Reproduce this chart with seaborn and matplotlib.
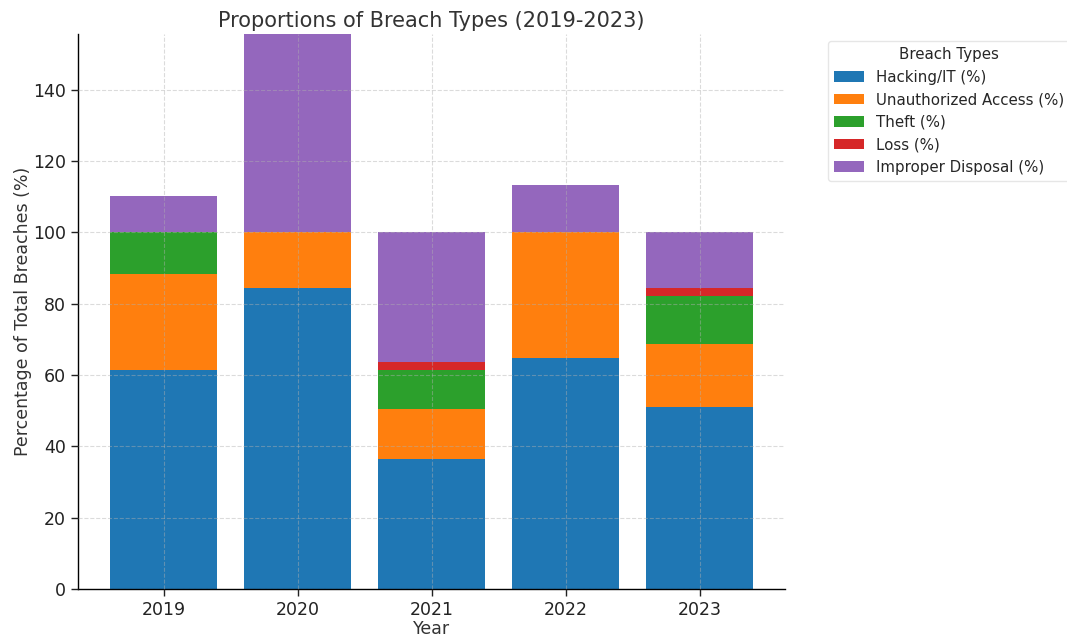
import seaborn as sns
import matplotlib.pyplot as plt
import pandas as pd
import numpy as np

years = ['2019', '2020', '2021', '2022', '2023']
hacking = [61.4, 84.4, 36.3, 64.8, 50.9]
unauthorized = [27.0, 15.6, 14.1, 35.2, 17.9]
theft = [11.6, 0.0, 11.0, 0.0, 13.3]
loss = [0.0, 0.0, 2.3, 0.0, 2.4]
improper = [10.1, 55.7, 36.3, 13.4, 15.5]

labels = ['Hacking/IT (%)', 'Unauthorized Access (%)', 'Theft (%)', 'Loss (%)', 'Improper Disposal (%)']
colors = ['#1f77b4', '#ff7f0e', '#2ca02c', '#d62728', '#9467bd']

sns.set_style('white')
plt.rcParams['font.family'] = ['DejaVu Sans']

fig = plt.figure(figsize=(10.67, 6.38), dpi=100)
ax = fig.add_axes([0.073, 0.077, 0.663, 0.87])

series = [hacking, unauthorized, theft, loss, improper]
cum = np.cumsum(np.array(series), axis=0)

# stacked: draw cumulative totals from top layer down
for i in range(len(series) - 1, -1, -1):
    df = pd.DataFrame({'Year': years, 'Value': cum[i]})
    sns.barplot(x='Year', y='Value', data=df, color=colors[i], saturation=1,
                width=0.8, label=labels[i], ax=ax, linewidth=0)

ax.set_xlim(-0.64, 4.64)
ax.set_ylim(0, 155.7)
ax.set_yticks([0, 20, 40, 60, 80, 100, 120, 140])
ax.grid(True, linestyle='--', color='#b0b0b0', alpha=0.45, linewidth=0.8)
ax.set_axisbelow(False)
for s in ['top', 'right']:
    ax.spines[s].set_visible(False)
for s in ['left', 'bottom']:
    ax.spines[s].set_color('black')
    ax.spines[s].set_linewidth(1.0)
ax.tick_params(axis='both', which='both', direction='out', length=5, width=1,
               labelsize=12.5, left=True, bottom=True, colors='#222222')

ax.set_title('Proportions of Breach Types (2019-2023)', fontsize=15, color='#333333', pad=5)
ax.set_xlabel('Year', fontsize=12.5, color='#333333', labelpad=1)
ax.set_ylabel('Percentage of Total Breaches (%)', fontsize=12.5, color='#333333', labelpad=1)

handles, labs = ax.get_legend_handles_labels()
order = [labs.index(l) for l in labels]
leg = ax.legend([handles[k] for k in order], labels, title='Breach Types',
                loc='upper left', bbox_to_anchor=(1.05, 1.0), fontsize=10.8,
                title_fontsize=10.8, frameon=True)
leg.get_frame().set_edgecolor('#e0e0e0')

fig.savefig('out.png', dpi=100)
